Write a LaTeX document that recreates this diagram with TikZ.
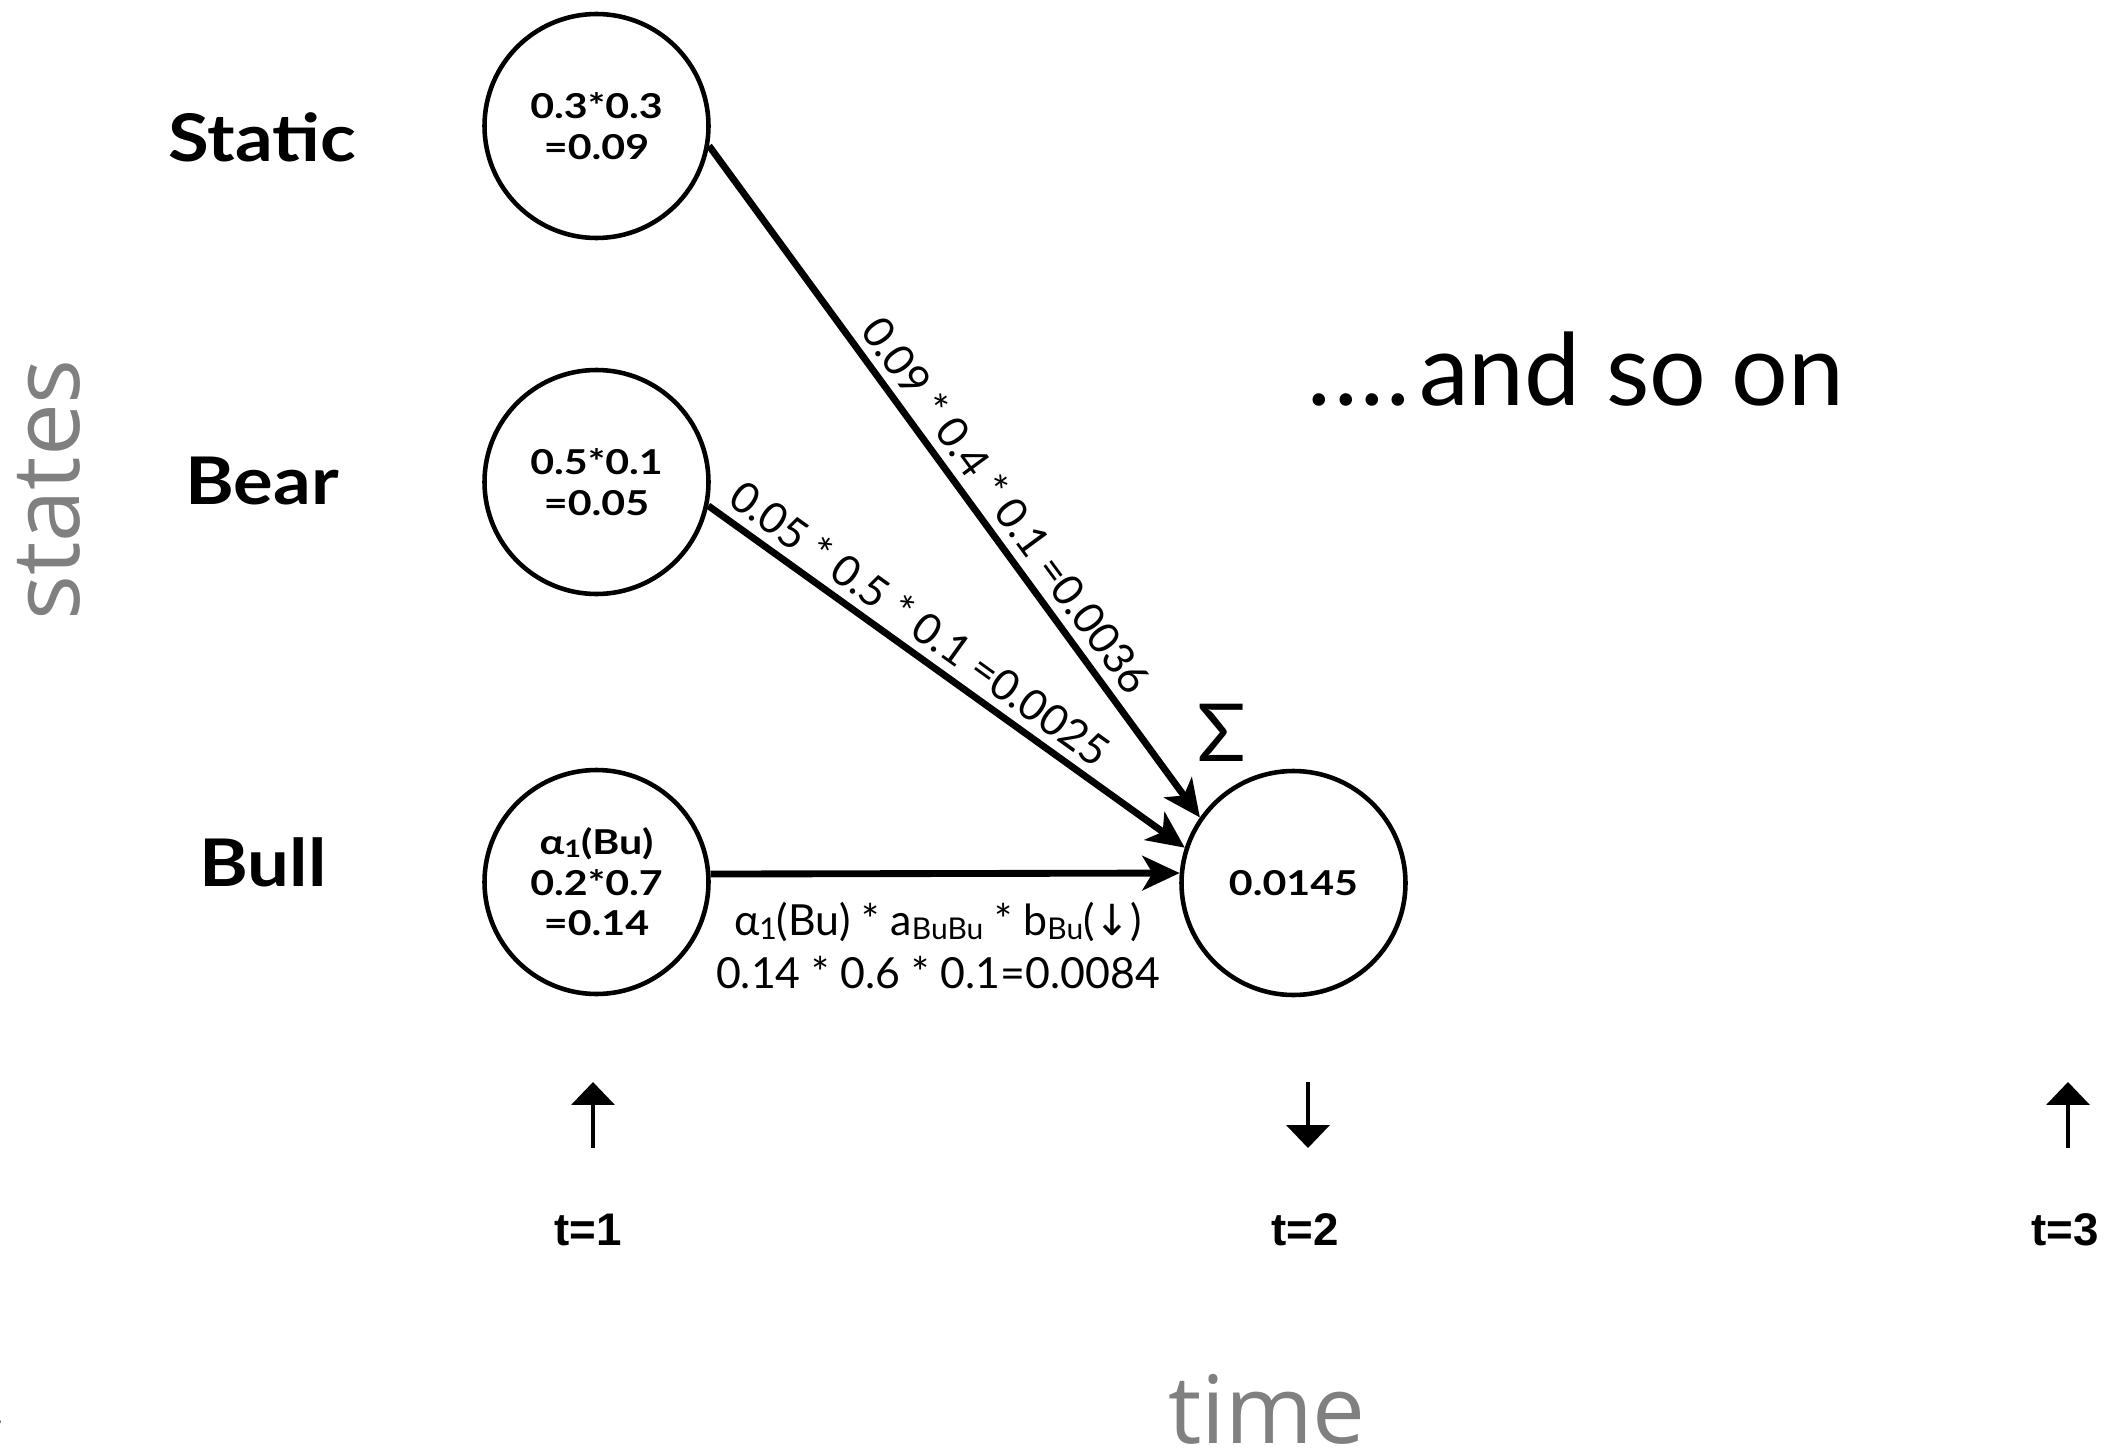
\documentclass[tikz,border=0pt]{standalone}
\usepackage{fontspec}
\setmainfont{Lato}
\newfontfamily\widefont{Lato}[FakeStretch=1.2]
\newfontfamily\rowfont{Lato}[FakeStretch=1.13]
\newfontfamily\axisfont{Open Sans}
\newfontfamily\timefont{Liberation Sans}
\newfontfamily\symfont{DejaVu Sans}
\usetikzlibrary{arrows.meta}
\definecolor{axisgrey}{RGB}{128,128,128}
\newcommand{\lowtxt}[1]{\raisebox{-0.15ex}{\scalebox{0.7}{#1}}}

\begin{document}
\begin{tikzpicture}[x=0.35pt,y=0.35pt,yscale=-1,xscale=1,
    hstate/.style={circle,draw,line width=1.6pt,minimum size=78.4pt,inner sep=0pt,align=center,
        font=\widefont\fontsize{12}{14.2}\selectfont\bfseries},
    rowlabel/.style={font=\rowfont\fontsize{23}{27}\selectfont\bfseries},
    trans/.style={line width=2.4pt,-{Stealth[length=13pt,width=12pt,inset=3.5pt]}},
    translabel/.style={anchor=south,inner sep=3pt,font=\fontsize{15}{17.5}\selectfont},
    axis/.style={text=axisgrey,font=\axisfont\fontsize{33}{38}\selectfont},
    tlabel/.style={font=\timefont\bfseries\fontsize{16}{19}\selectfont},
    obs/.style={line width=1.3pt,-{Triangle[length=8pt,width=15pt]}}]
\useasboundingbox (0,0) rectangle (2108,1452);
\clip (0,0) rectangle (2108,1452);

\node[hstate] (static) at (596.5,126) {0.3*0.3\\=0.09};
\node[hstate] (bear) at (596.5,482) {0.5*0.1\\=0.05};
\node[hstate] (bull) at (596.5,882) {α\lowtxt{1}(Bu)\\0.2*0.7\\=0.14};
\node[hstate] (bulltwo) at (1293.5,883) {0.0145};

\node[rowlabel] (lstatic) at (262,137) {Static};
\node[rowlabel] (lbear) at (262,481) {Bear};
\node[rowlabel] (lbull) at (263,862) {Bull};

\draw[trans] (static.-10.4) -- (bulltwo.145)
    node[translabel,pos=0.56,rotate=-53.7] (wstatic) {0.09 * 0.4 * 0.1 =0.0036};
\draw[trans] (bear.-12.2) -- (bulltwo.162.4)
    node[translabel,pos=0.41,rotate=-35.7] (wbear) {0.05 * 0.5 * 0.1 =0.0025};
\draw[trans] (bull.4.6) -- (bulltwo.175.4)
    node[pos=0.485,below=9pt,inner sep=0pt,align=center,font=\fontsize{15}{18.5}\selectfont] (wbull)
    {α\lowtxt{1}(Bu) * a\lowtxt{BuBu} * b\lowtxt{Bu}({\symfont ↓})\\0.14 * 0.6 * 0.1=0.0084};

\node[font=\fontsize{28}{30}\selectfont] (sigma) at (1222,733) {Σ};
\node[font=\fontsize{35}{40}\selectfont,anchor=base] (more) at (1576,405) {.\kern1pt.\kern1pt.\kern1pt.\kern3pt and so on};

\node[axis,rotate=90,anchor=base] (states) at (80,490) {states};
\node[axis,anchor=base] (time) at (1267,1443) {time};

\node[tlabel,anchor=base] (t1) at (588,1245) {t=1};
\node[tlabel,anchor=base] (t2) at (1305,1245) {t=2};
\node[tlabel,anchor=base] (t3) at (2065,1245) {t=3};
\draw[obs] (593,1148) -- (593,1082);
\draw[obs] (1308,1082) -- (1308,1148);
\draw[obs] (2068,1148) -- (2068,1082);

\node[font=\fontsize{13}{15}\selectfont,anchor=base east,inner sep=0pt] (pagenum) at (4,1423) {2};
\end{tikzpicture}
\end{document}
